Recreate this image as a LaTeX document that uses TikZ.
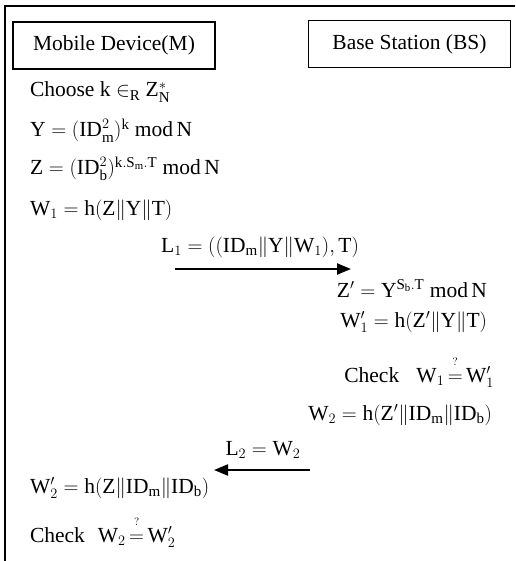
\documentclass[tikz,border=0pt]{standalone}
\usepackage{fontspec}
\setmainfont{Liberation Serif}
\usetikzlibrary{arrows.meta}
\newcommand{\up}[1]{\mathrm{#1}}
\newcommand{\cat}{\big\|}
\newcommand{\qeq}{\mskip-2mu\stackrel{\raisebox{7pt}{$\scriptscriptstyle ?$}}{=}\mskip-2mu}
\begin{document}
\begin{tikzpicture}[x=1pt,y=-1pt,
  every node/.style={inner sep=0pt, outer sep=0pt, font=\fontsize{21.5}{26}\selectfont},
  party/.style={draw, line width=1.8pt, minimum width=202pt, minimum height=47pt},
  lt/.style={anchor=base west},
  rt/.style={anchor=base east},
  lbl/.style={anchor=base},
  msg/.style={line width=2.2pt, -{Triangle[length=14pt,width=11pt]}},
  frame/.style={line width=1.8pt}]
\useasboundingbox (0,0) rectangle (515,561);
% outer frame (top and left edges)
\draw[frame] (515,6) -- (5,6) -- (5,561);
% parties
\node[party] (md) at (114,45.5) {Mobile Device(M)};
\node[party] (bs) at (409.5,44) {Base Station (BS)};
% mobile device: setup
\node[lt] (choose) at (30,97) {Choose k $\in_{\up{R}}$ $\up{Z}^{*}_{\up{N}}$};
\node[lt] (y) at (30,137) {$\up{Y}=(\up{ID}_{\up{m}}^{2})^{\up{k}}\ \up{mod}\,\up{N}$};
\node[lt] (z) at (30,175) {$\up{Z}=(\up{ID}_{\up{b}}^{2})^{\up{k.S_m.T}}\ \up{mod}\,\up{N}$};
\node[lt] (w1) at (30,215) {$\up{W}_{1}=\up{h}(\up{Z}\cat\up{Y}\cat\up{T})$};
% first message
\node[lbl] (l1) at (260,252) {$\up{L}_{1}=((\up{ID}_{\up{m}}\cat\up{Y}\cat\up{W}_{1}),\up{T})$};
\coordinate (m1s) at (175,269);
\coordinate (m1e) at (351,269);
\draw[msg] (m1s) -- (m1e);
% base station
\node[rt] (zp) at (487,297) {$\up{Z}'=\up{Y}^{\up{S_b.T}}\ \up{mod}\,\up{N}$};
\node[rt] (w1p) at (487,327) {$\up{W}'_{1}=\up{h}(\up{Z}'\cat\up{Y}\cat\up{T})$};
\node[rt] (chk1) at (494,382) {Check\hspace{0.8em}$\up{W}_{1}\qeq\up{W}'_{1}$};
\node[rt] (w2) at (492,420) {$\up{W}_{2}=\up{h}(\up{Z}'\cat\up{ID}_{\up{m}}\cat\up{ID}_{\up{b}})$};
% second message
\node[lbl] (l2) at (263,455) {$\up{L}_{2}=\up{W}_{2}$};
\coordinate (m2s) at (310,470);
\coordinate (m2e) at (214,470);
\draw[msg] (m2s) -- (m2e);
% mobile device: verification
\node[lt] (w2p) at (30,493) {$\up{W}'_{2}=\up{h}(\up{Z}\cat\up{ID}_{\up{m}}\cat\up{ID}_{\up{b}})$};
\node[lt] (chk2) at (30,542) {Check\hspace{0.6em}$\up{W}_{2}\qeq\up{W}'_{2}$};
\end{tikzpicture}
\end{document}
